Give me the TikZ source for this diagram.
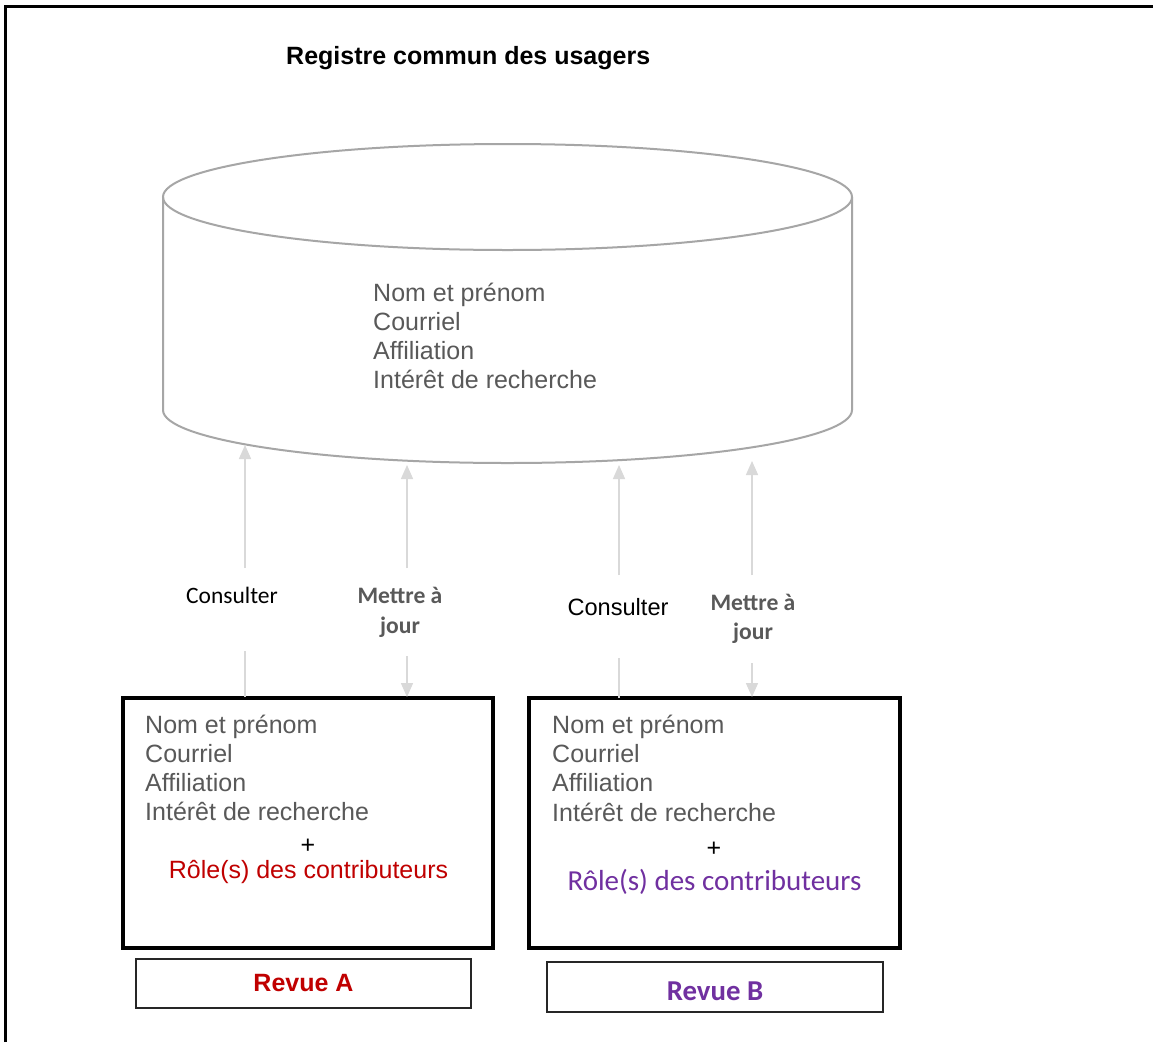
\documentclass[tikz,border=0pt]{standalone}
\usepackage{fontspec}
\setmainfont{Liberation Sans}
\newfontfamily\carlito{Carlito}
\usetikzlibrary{arrows.meta}
\definecolor{txtgray}{HTML}{595959}
\definecolor{cylgray}{HTML}{A6A6A6}
\definecolor{arrgray}{HTML}{D9D9D9}
\definecolor{revred}{HTML}{C00000}
\definecolor{revpurple}{HTML}{7030A0}
\begin{document}
\begin{tikzpicture}[x=1pt,y=-1pt,
  conn/.style={draw=arrgray, line width=1.5pt},
  tipped/.style={conn, -{Triangle[width=12pt,length=14pt]}},
  item/.style={anchor=base west, inner sep=0pt, text=txtgray, font=\fontsize{25}{29}\selectfont},
  plus/.style={anchor=base, inner sep=0pt, font=\fontsize{25}{29}\selectfont},
  bigbox/.style={draw=black, line width=3.5pt, minimum width=370pt, minimum height=250pt, inner sep=0pt},
  revbox/.style={draw=black!85, line width=1.5pt, minimum width=335pt, minimum height=49pt, inner sep=0pt},
  labc/.style={anchor=base, inner sep=0pt, font=\carlito\fontsize{23.5}{28}\selectfont},
  labm/.style={anchor=base, inner sep=0pt, text=txtgray, font=\carlito\bfseries\fontsize{23.6}{28}\selectfont}]
\useasboundingbox (0,0) rectangle (1153,1042);
\fill[white] (0,0) rectangle (1153,1042);
% frame
\draw[line width=2.5pt] (5.5,1042) -- (5.5,6.5) -- (1153,6.5);
% title
\node[anchor=base west, inner sep=0pt, font=\bfseries\fontsize{25}{30}\selectfont] (title) at (286,64) {Registre commun des usagers};
% cylinder
\draw[cylgray, line width=2pt] (507.5,197) ellipse [x radius=344.5pt, y radius=53pt];
\draw[cylgray, line width=2pt] (163,197) -- (163,410) arc[start angle=180, end angle=360, x radius=344.5pt, y radius=53pt] -- (852,197);
\foreach \t [count=\i] in {Nom et prénom, Courriel, Affiliation, Intérêt de recherche}
  \node[item] (cyl-\i) at (373,272+29*\i) {\t};
% box A
\node[bigbox] (boxA) at (308,823) {};
\foreach \t [count=\i] in {Nom et prénom, Courriel, Affiliation, Intérêt de recherche}
  \node[item] (a-\i) at (145,704+29*\i) {\t};
\node[plus] (plusA) at (308,853) {+};
\node[plus, text=revred] (roleA) at (308.5,878) {Rôle(s) des contributeurs};
\node[revbox, text=revred, font=\bfseries\fontsize{25}{30}\selectfont] (revA) at (303.5,983.5) {Revue A};
% box B
\node[bigbox, minimum width=371pt] (boxB) at (714.5,823) {};
\foreach \t [count=\i] in {Nom et prénom, Courriel, Affiliation, Intérêt de recherche}
  \node[item] (b-\i) at (552,704+29.3*\i) {\t};
\node[plus] (plusB) at (714,856) {+};
\node[anchor=base, inner sep=0pt, text=revpurple, font=\carlito\fontsize{29}{34}\selectfont] (roleB) at (714.5,890) {Rôle(s) des contributeurs};
\node[revbox, minimum width=336pt, minimum height=50pt, text height=28pt, text=revpurple, font=\carlito\bfseries\fontsize{28.8}{34}\selectfont] (revB) at (715,987) {Revue B};
% connectors coordinates
\coordinate (cA-t) at (245,445); \coordinate (cA-u) at (245,568);
\coordinate (cA-l) at (245,651); \coordinate (cA-b) at (245,697);
\coordinate (mA-t) at (407,465); \coordinate (mA-u) at (407,568);
\coordinate (mA-l) at (407,656); \coordinate (mA-b) at (407,697);
\coordinate (cB-t) at (619,465); \coordinate (cB-u) at (619,575);
\coordinate (cB-l) at (619,658); \coordinate (cB-b) at (619,698);
\coordinate (mB-t) at (752,461); \coordinate (mB-u) at (752,575);
\coordinate (mB-l) at (752,663); \coordinate (mB-b) at (752,697);
\draw[tipped] (cA-u) -- (cA-t);
\draw[conn] (cA-b) -- (cA-l);
\draw[tipped] (mA-u) -- (mA-t);
\draw[tipped] (mA-l) -- (mA-b);
\draw[tipped] (cB-u) -- (cB-t);
\draw[conn] (cB-b) -- (cB-l);
\draw[tipped] (mB-u) -- (mB-t);
\draw[tipped] (mB-l) -- (mB-b);
% labels
\node[labc] (labcA) at (232,603) {Consulter};
\node[labm] (labmA1) at (400,603) {Mettre à};
\node[labm] (labmA2) at (400,633) {jour};
\node[anchor=base, inner sep=0pt, font=\fontsize{23.6}{28}\selectfont] (labcB) at (618,615) {Consulter};
\node[labm] (labmB1) at (753,610) {Mettre à};
\node[labm] (labmB2) at (753,639) {jour};
\end{tikzpicture}
\end{document}
